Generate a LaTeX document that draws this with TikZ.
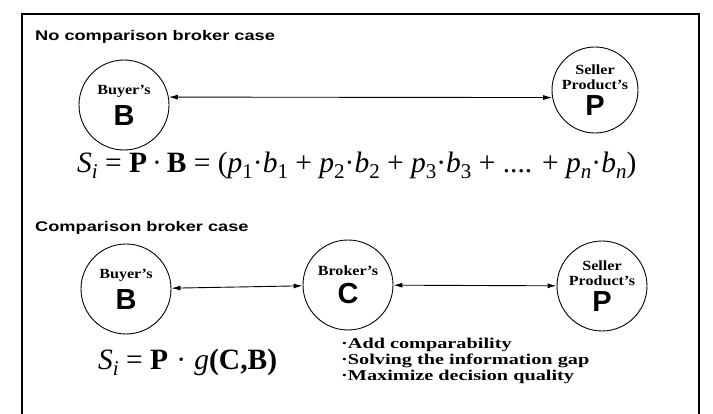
\documentclass[tikz,border=0pt]{standalone}
\usepackage{fontspec}
\setmainfont{Liberation Serif}
\setsansfont{Liberation Sans}
\newfontfamily\headfont[FakeStretch=1.3]{Liberation Sans Bold}
\newfontfamily\notefont[FakeStretch=1.35]{Liberation Serif Bold}
\newfontfamily\whofont[FakeStretch=1.15]{Liberation Serif Bold}
\usetikzlibrary{positioning,arrows.meta}
% lowered index, nearly full size as in the scan
\newcommand{\lowi}[1]{\raisebox{-0.2em}{\fontsize{21}{21}\selectfont #1}}
\newcommand{\whotext}[1]{{\whofont #1}}
\newcommand{\keyletter}[1]{{\sffamily\bfseries\fontsize{29}{29}\selectfont #1}}
\tikzset{
  party/.style={circle, draw, line width=0.9pt, minimum size=90pt, inner sep=0pt, align=center, font=\fontsize{14}{15}\selectfont},
  casehead/.style={anchor=base west, inner sep=0pt, font=\headfont\fontsize{14}{14}\selectfont},
  formula/.style={anchor=base west, inner sep=0pt, font=\fontsize{29.5}{30}\selectfont},
  gains/.style={anchor=north west, inner sep=0pt, align=left, font=\notefont\fontsize{15}{16}\selectfont},
  link/.style={<->, line width=0.9pt}
}
\begin{document}
\begin{tikzpicture}[x=1pt, y=-1pt, >={Latex[length=9pt,width=5pt]}]
\useasboundingbox (0,0) rectangle (713,414);
\coordinate (MB)  at (124,105);
\coordinate (MP)  at (595,90);
\coordinate (MB2) at (126,289);
\coordinate (MC2) at (348,285);
\coordinate (MP2) at (602,286);
% Rahmen, unten offen
\draw[line width=1.8pt] (22,414) -- (22,14) -- (699,14) -- (699,414);
\node[casehead] (T1) at (35,41)  {No comparison broker case};
\node[casehead] (T2) at (35,232) {Comparison broker case};
\node[party] (B)  at (MB)  {\whotext{Buyer’s}\\[7pt]\keyletter{B}};
\node[party, minimum size=86pt] (P)  at (MP)  {\whotext{Seller}\\\whotext{Product’s}\\[5pt]\keyletter{P}};
\node[party] (B2) at (MB2) {\whotext{Buyer’s}\\[7pt]\keyletter{B}};
\node[party] (C2) at (MC2) {\whotext{Broker’s}\\[7pt]\keyletter{C}};
\node[party] (P2) at (MP2) {\whotext{Seller}\\\whotext{Product’s}\\[5pt]\keyletter{P}};
\draw[link] (B.10) -- (P.190);
\draw[link] (B2) -- (C2);
\draw[link] (C2) -- (P2);
\node[formula] (S1) at (77,173) {\textit{S}\lowi{\textit{i}} = \textbf{P}\,·\,\textbf{B} = (\textit{p}\lowi{1}·\textit{b}\lowi{1} + \textit{p}\lowi{2}·\textit{b}\lowi{2} + \textit{p}\lowi{3}·\textit{b}\lowi{3} + .... + \textit{p}\lowi{\textit{n}}·\textit{b}\lowi{\textit{n}})};
\node[formula] (S2) at (98,370) {\textit{S}\lowi{\textit{i}} = \textbf{P}\;·\;\textit{g}\textbf{(C,B)}};
\node[gains] (G) at (341,338) {·Add comparability\\·Solving the information gap\\·Maximize decision quality};
\end{tikzpicture}
\end{document}
